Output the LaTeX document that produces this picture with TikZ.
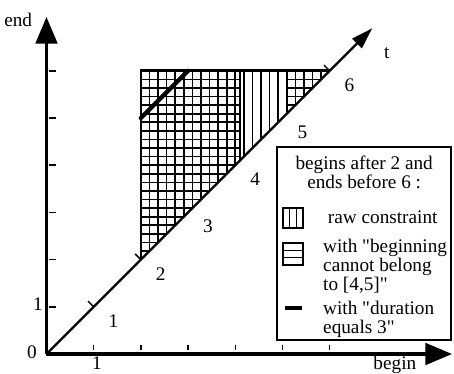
\documentclass[tikz,border=0pt]{standalone}
\usepackage{fontspec}
\setmainfont{Liberation Serif}[Ligatures=TeXOff]
\usetikzlibrary{arrows.meta}
\tikzset{
  axis/.style={line width=1.9pt, -{Triangle[length=16pt,width=13pt]}},
  tline/.style={line width=1.3pt, -{Triangle[length=13pt,width=8pt]}},
  hatch/.style={line width=1pt},
  rim/.style={line width=1.6pt},
  dur/.style={line width=2.6pt, line cap=round},
  tck/.style={line width=0.9pt},
  lab/.style={font=\fontsize{11.6}{11.3}\selectfont, inner sep=1pt},
  legtxt/.style={lab, align=left, anchor=west}
}
\begin{document}
\begin{tikzpicture}[x=1cm,y=1cm]
\useasboundingbox (-0.985,-0.403) rectangle (8.633,7.5);
\coordinate (O) at (0,0);
\coordinate (ytip) at (0,7.14);
\coordinate (xtip) at (8.59,0);
\coordinate (ttip) at (6.9,6.9);
% constraint region
\begin{scope}
  \clip (2,2) -- (2,6) -- (6,6) -- cycle;
  \foreach \k in {1,...,21}
    \draw[hatch] ({2+\k*4/22},2) -- ++(0,4);
  \foreach \k in {1,...,21} {
    \draw[hatch] (2,{6-\k*4/22}) -- (4.1,{6-\k*4/22});
    \draw[hatch] (5.1,{6-\k*4/22}) -- (6,{6-\k*4/22});
  }
  \draw[hatch] (4.1,2) -- (4.1,6) (5.1,2) -- (5.1,6);
\end{scope}
\draw[rim] (2,2) -- (2,6) -- (6,6);
\coordinate (d1) at (2,5);
\coordinate (d2) at (3,6);
\draw[dur] (d1) -- (d2);
% axes
\draw[axis] (O) -- (ytip);
\draw[axis] (O) -- (xtip);
\draw[tline] (O) -- (ttip);
\foreach \t in {1,...,6} {
  \draw[tck] (0.06,\t) -- (0.2,\t);
  \draw[tck] (\t,0.08) -- (\t,0.2);
}
\foreach \t in {1,2,6}
  \draw[tck] (\t,\t) -- ++(-0.12,0.12);
\foreach \t in {1,...,6}
  \node[lab] (t\t) at ({\t+0.42},{\t-0.3}) {\t};
\node[lab] (lend) at (-0.6,7.08) {end};
\node[lab] (lbegin) at (7.38,-0.24) {begin};
\node[lab] (lt) at (7.21,6.38) {t};
\node[lab] (lzero) at (-0.31,0.04) {0};
\node[lab] (lx1) at (1.07,-0.19) {1};
\node[lab] (ly1) at (-0.18,1.06) {1};
% legend
\draw[line width=0.9pt] (4.883,0.297) rectangle (8.57,4.386);
\node[lab, align=center] (lhead) at (6.73,3.85) {begins after 2 and\\ends before 6 :};
\draw[line width=1.1pt] (5.01,2.67) rectangle (5.44,3.09);
\draw[line width=0.9pt] (5.153,2.67) -- (5.153,3.09) (5.297,2.67) -- (5.297,3.09);
\node[legtxt] (lraw) at (5.92,2.9) {raw constraint};
\draw[line width=1.1pt] (5.01,1.89) rectangle (5.44,2.35);
\draw[line width=0.9pt] (5.01,2.043) -- (5.44,2.043) (5.01,2.197) -- (5.44,2.197);
\node[legtxt] (lbeg) at (5.82,1.86) {with "beginning\\ cannot belong\\ to [4,5]"};
\draw[dur, line cap=butt] (5.05,0.97) -- (5.41,0.97);
\node[legtxt] (ldur) at (5.82,0.74) {with "duration\\ equals 3"};
\end{tikzpicture}
\end{document}
